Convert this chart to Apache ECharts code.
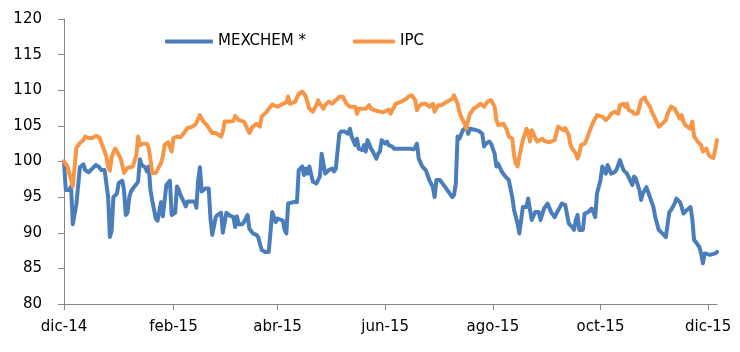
<!DOCTYPE html>
<html>
<head>
<meta charset="utf-8">
<script src="https://cdn.jsdelivr.net/npm/echarts@6/dist/echarts.min.js"></script>
<style>
  html, body { margin: 0; padding: 0; background: #fff; }
  #chart { width: 740px; height: 352px; }
</style>
</head>
<body>
<div id="chart"></div>
<script>
// days counted from 1 Dec 2014
const tickDays = [0, 62, 121, 182, 243, 304, 365];
const tickLabels = ["dic-14", "feb-15", "abr-15", "jun-15", "ago-15", "oct-15", "dic-15"];

const mexDays = [
  0, 1, 3, 4, 5, 7, 8, 9, 11, 12, 14, 16, 18, 20, 21, 23, 25, 26, 27, 28,
  30, 31, 33, 34, 35, 36, 37, 38, 39, 41, 42, 43, 44, 46, 47, 48, 49, 50, 52, 53,
  54, 55, 56, 57, 58, 59, 60, 61, 63, 64, 65, 66, 67, 68, 69, 70, 72, 74, 75, 76,
  77, 78, 80, 81, 82, 83, 84, 85, 86, 87, 89, 90, 91, 92, 94, 96, 97, 98, 99, 101,
  102, 104, 105, 107, 109, 110, 111, 112, 114, 116, 117, 118, 119, 120, 121, 122, 124, 125, 126, 127,
  128, 130, 132, 133, 135, 136, 137, 138, 139, 141, 143, 144, 145, 146, 147, 148, 150, 151, 152, 153,
  154, 156, 157, 159, 160, 161, 162, 163, 165, 166, 167, 169, 170, 171, 172, 174, 175, 177, 178, 179,
  180, 182, 183, 184, 186, 187, 188, 190, 192, 194, 196, 198, 199, 200, 201, 203, 205, 207, 209, 210,
  211, 213, 214, 216, 218, 220, 221, 222, 223, 224, 226, 228, 229, 230, 232, 235, 237, 238, 239, 241,
  242, 244, 245, 246, 248, 250, 252, 254, 255, 257, 258, 259, 260, 262, 263, 265, 267, 269, 270, 272,
  274, 276, 278, 279, 281, 282, 284, 286, 288, 289, 290, 291, 292, 294, 295, 297, 298, 299, 301, 302,
  304, 305, 306, 307, 308, 310, 312, 313, 315, 316, 317, 319, 320, 322, 323, 324, 326, 327, 328, 330,
  332, 334, 335, 337, 339, 341, 342, 343, 344, 346, 347, 349, 350, 351, 353, 355, 356, 357, 358, 360,
  361, 362, 363, 364, 366, 367, 369, 370
];
const mexValues = [
  100, 96, 96, 96.5, 91.2, 94, 93.8, 99.2, 99.6, 98.8, 98.5, 99, 99.5, 99.2, 98.8, 98.8, 95, 89.4, 90.3, 95,
  95.5, 97, 97.3, 96, 92.5, 92.8, 95, 95.8, 96.2, 96.8, 97.2, 100.3, 99.5, 99.2, 98.6, 99.3, 96, 94.5, 92, 91.7,
  91.8, 94.3, 92.3, 92.4, 96.7, 97, 97.3, 92.5, 92.8, 96.5, 96, 95.3, 94.8, 94.8, 93.7, 94.4, 94.4, 94.4, 93.5, 97.3,
  99.2, 95.8, 96.2, 96, 96.2, 92, 89.7, 89.9, 92.2, 92.5, 92.8, 90, 89.8, 92.8, 92.4, 92.2, 90.8, 92.3, 91.2, 91.2,
  91.5, 92.5, 90.6, 89.9, 89.7, 89.4, 88.5, 87.6, 87.3, 87.3, 87.3, 92.9, 92.2, 91.5, 92, 92.2, 91.7, 90.4, 89.9, 94.1,
  94.3, 94.3, 94.3, 98.8, 99.3, 98.1, 99, 98.3, 99.3, 97.2, 96.9, 96.9, 97.9, 101.1, 100.9, 98.3, 98.8, 98.8, 99, 98.6,
  99, 103.9, 104.2, 104.2, 104.4, 103.9, 104.6, 103.5, 102.3, 103.2, 101.8, 101.6, 102.3, 101.4, 103, 101.8, 101.4, 100.4, 101.1, 101.4,
  103, 102.5, 102.8, 102.3, 102.1, 101.8, 101.6, 101.8, 101.8, 101.8, 101.8, 101.7, 102, 102.5, 100.4, 99.3, 98.8, 97.4, 96.4, 95,
  97.4, 97.4, 97.4, 96.4, 95.7, 95, 95.3, 96.9, 103.5, 103.2, 104.4, 104.8, 103.9, 104.6, 104.5, 104.3, 103.9, 102.1, 102.5, 102.8,
  102.5, 101.1, 99.3, 99.7, 98.6, 97.9, 97.4, 95, 93.2, 91.3, 89.9, 89.7, 93.6, 93.6, 94.8, 91.8, 92.9, 92.9, 91.8, 93.4,
  94.1, 92.9, 92.2, 92.7, 93.6, 94.1, 93.9, 91.3, 90.8, 90.4, 91.8, 92.5, 90.4, 90.4, 92.7, 92.9, 92.7, 93.4, 92.2, 95.5,
  97.4, 99.3, 98.8, 98.3, 99.5, 98.3, 98.5, 98.8, 100.2, 100, 98.8, 98.3, 98.1, 96.7, 97.9, 97.6, 96, 94.6, 95.5, 96.4,
  95, 93.6, 92.2, 90.4, 89.9, 89.4, 89.2, 92.9, 93.2, 94.1, 94.8, 94.3, 93.6, 92.7, 93.2, 93.6, 92, 89, 88.7, 88,
  87.1, 85.7, 87.1, 87.3, 86.9, 87.1, 87.1, 87.3
];

const ipcDays = [
  0, 1, 2, 4, 5, 6, 7, 8, 9, 11, 12, 14, 16, 17, 18, 20, 21, 22, 24, 25,
  26, 27, 29, 30, 32, 33, 34, 36, 37, 39, 40, 41, 42, 43, 45, 47, 48, 49, 50, 52,
  53, 55, 56, 57, 59, 60, 61, 62, 64, 66, 67, 68, 69, 70, 72, 74, 75, 77, 78, 79,
  81, 82, 84, 85, 86, 87, 89, 90, 91, 92, 94, 96, 97, 99, 100, 102, 103, 105, 107, 108,
  109, 111, 112, 113, 115, 116, 118, 119, 121, 122, 124, 126, 127, 128, 129, 131, 132, 133, 135, 136,
  137, 139, 141, 143, 144, 145, 147, 148, 150, 152, 153, 155, 156, 158, 159, 160, 162, 163, 165, 166,
  167, 169, 170, 171, 173, 174, 176, 177, 179, 181, 182, 184, 185, 186, 188, 189, 191, 192, 194, 195,
  196, 197, 199, 200, 201, 203, 204, 205, 207, 209, 210, 211, 212, 214, 215, 217, 218, 220, 221, 222,
  223, 224, 225, 227, 228, 229, 230, 231, 232, 234, 236, 237, 238, 239, 240, 242, 243, 244, 245, 246,
  247, 249, 250, 251, 252, 254, 255, 256, 257, 258, 260, 261, 262, 263, 264, 265, 266, 267, 268, 269,
  271, 272, 273, 275, 276, 278, 280, 281, 283, 284, 286, 287, 288, 290, 291, 292, 293, 295, 296, 298,
  299, 300, 302, 303, 305, 306, 307, 309, 310, 312, 313, 314, 315, 317, 318, 319, 320, 322, 323, 325,
  326, 327, 329, 330, 332, 333, 334, 335, 337, 338, 339, 341, 342, 343, 344, 346, 347, 349, 350, 351,
  352, 353, 355, 356, 357, 358, 359, 361, 362, 363, 364, 365, 366, 367, 368, 369, 370
];
const ipcValues = [
  100, 100, 99.3, 97.4, 96.5, 96.7, 101.9, 102.1, 102.6, 103, 103.5, 103.3, 103.3, 103.4, 103.6, 103.4, 103.5, 102.1, 100.7, 99.3,
  98.7, 100.7, 101.8, 101.4, 100.5, 99.5, 98.4, 99.1, 99.3, 99.3, 99.5, 100.9, 103.5, 102.3, 102.5, 102.5, 101.9, 100.2, 98.4, 98.4,
  98.4, 99.8, 100.7, 102.3, 102.7, 102.8, 101.4, 103.3, 103.5, 103.4, 103.6, 104, 104.2, 104.7, 104.8, 105.1, 105.4, 106.5, 106, 105.6,
  105.1, 104.7, 104, 104.2, 104, 103.9, 103.5, 104.2, 105.6, 105.7, 105.6, 105.7, 106.4, 105.8, 105.7, 105.6, 105.4, 104, 104.9, 104.9,
  105.3, 104.9, 106.3, 106.5, 107, 107.4, 108, 107.9, 107.7, 107.9, 108.1, 108.3, 109.1, 108.1, 108.2, 108.4, 108.6, 109.5, 109.8, 109.5,
  109.1, 107.4, 107, 107.9, 108.6, 108.1, 107.4, 107.9, 108.4, 108.1, 108.4, 108.8, 109.1, 109.1, 108.6, 108.1, 107.7, 107.9, 107.7, 106.7,
  107.4, 107.4, 107.4, 107.4, 107.9, 107.4, 107.2, 107, 107, 106.9, 107, 107.3, 106.7, 107.2, 108.1, 108.1, 108.4, 108.4, 108.8, 109.1,
  109.3, 109.3, 108.6, 107.2, 107.7, 108.1, 107.9, 108.1, 107.7, 108.1, 107, 107.2, 107.9, 107.9, 108.1, 108.4, 108.6, 108.8, 109.3, 109.1,
  108.1, 107, 106.3, 105.3, 104.6, 105.8, 106.7, 107, 107.4, 107.7, 108.1, 108.3, 107.7, 107.7, 108.4, 108.6, 108.8, 107.7, 105.8, 105.1,
  105.3, 105.3, 105.1, 104.4, 103.5, 103.2, 100.9, 99.7, 99.3, 100.7, 103, 103.7, 104.6, 104.2, 102.8, 104.4, 103.9, 103.7, 102.8, 103,
  103.2, 102.9, 102.8, 102.7, 102.8, 103, 104.9, 104.7, 104.4, 104.7, 103.7, 102.3, 101.8, 101.1, 100.4, 101.1, 102.3, 102.5, 103, 104.4,
  104.6, 105.6, 106.5, 106.5, 106.3, 106.3, 105.8, 106.3, 106.7, 107, 107.2, 106.7, 107.9, 108.1, 107.7, 108.1, 107.2, 107, 106.7, 106.7,
  107.6, 108.6, 109, 108.4, 107.7, 107, 106.5, 106.3, 104.9, 104.9, 105.3, 105.8, 106.7, 107.2, 107.7, 107.4, 107.2, 106, 106.5, 105.6,
  105.1, 105.3, 104.6, 105.6, 103.5, 103.2, 102.8, 102.3, 101.4, 101.6, 101.8, 101.1, 100.7, 100.5, 100.5, 100.6, 103
];

const zip = (xs, ys) => xs.map((x, i) => [x, ys[i]]);

const chart = echarts.init(document.getElementById("chart"), null, { renderer: "canvas" });
const font = "DejaVu Sans";
const axisGray = "#868686";
const blue = "#4a7ebb";
const orange = "#f79646";

const legendCommon = {
  top: 34,
  padding: 0,
  icon: "roundRect",
  itemHeight: 4,
  textStyle: { fontFamily: font, fontSize: 15, color: "#000" },
};

const option = {
  animation: false,
  backgroundColor: "#ffffff",
  textStyle: { fontFamily: font },
  grid: { left: 64, right: 23, top: 19, bottom: 48 },
  legend: [
    { ...legendCommon, data: ["MEXCHEM *"], left: 165, itemWidth: 48 },
    { ...legendCommon, data: ["IPC"], left: 353, itemWidth: 42 },
  ],
  xAxis: {
    type: "value",
    min: 0,
    max: 370,
    splitLine: { show: false },
    axisLine: { show: true, onZero: false, lineStyle: { color: axisGray, width: 1 } },
    axisTick: { show: true, length: 6, customValues: tickDays, lineStyle: { color: axisGray } },
    axisLabel: {
      customValues: tickDays,
      margin: 16,
      fontFamily: font,
      fontSize: 15,
      color: "#000",
      formatter: (v) => tickLabels[tickDays.indexOf(v)] || "",
    },
  },
  yAxis: {
    type: "value",
    min: 80,
    max: 120,
    interval: 5,
    splitLine: { show: false },
    axisLine: { show: true, lineStyle: { color: axisGray, width: 1 } },
    axisTick: { show: true, length: 6, lineStyle: { color: axisGray } },
    axisLabel: { margin: 22, fontFamily: font, fontSize: 15, color: "#000" },
  },
  series: [
    {
      name: "MEXCHEM *",
      type: "line",
      symbol: "none",
      data: zip(mexDays, mexValues),
      color: blue,
      lineStyle: { width: 4, color: blue, join: "round", cap: "round" },
    },
    {
      name: "IPC",
      type: "line",
      symbol: "none",
      data: zip(ipcDays, ipcValues),
      color: orange,
      lineStyle: { width: 4, color: orange, join: "round", cap: "round" },
    },
  ],
};

chart.setOption(option);
</script>
</body>
</html>
